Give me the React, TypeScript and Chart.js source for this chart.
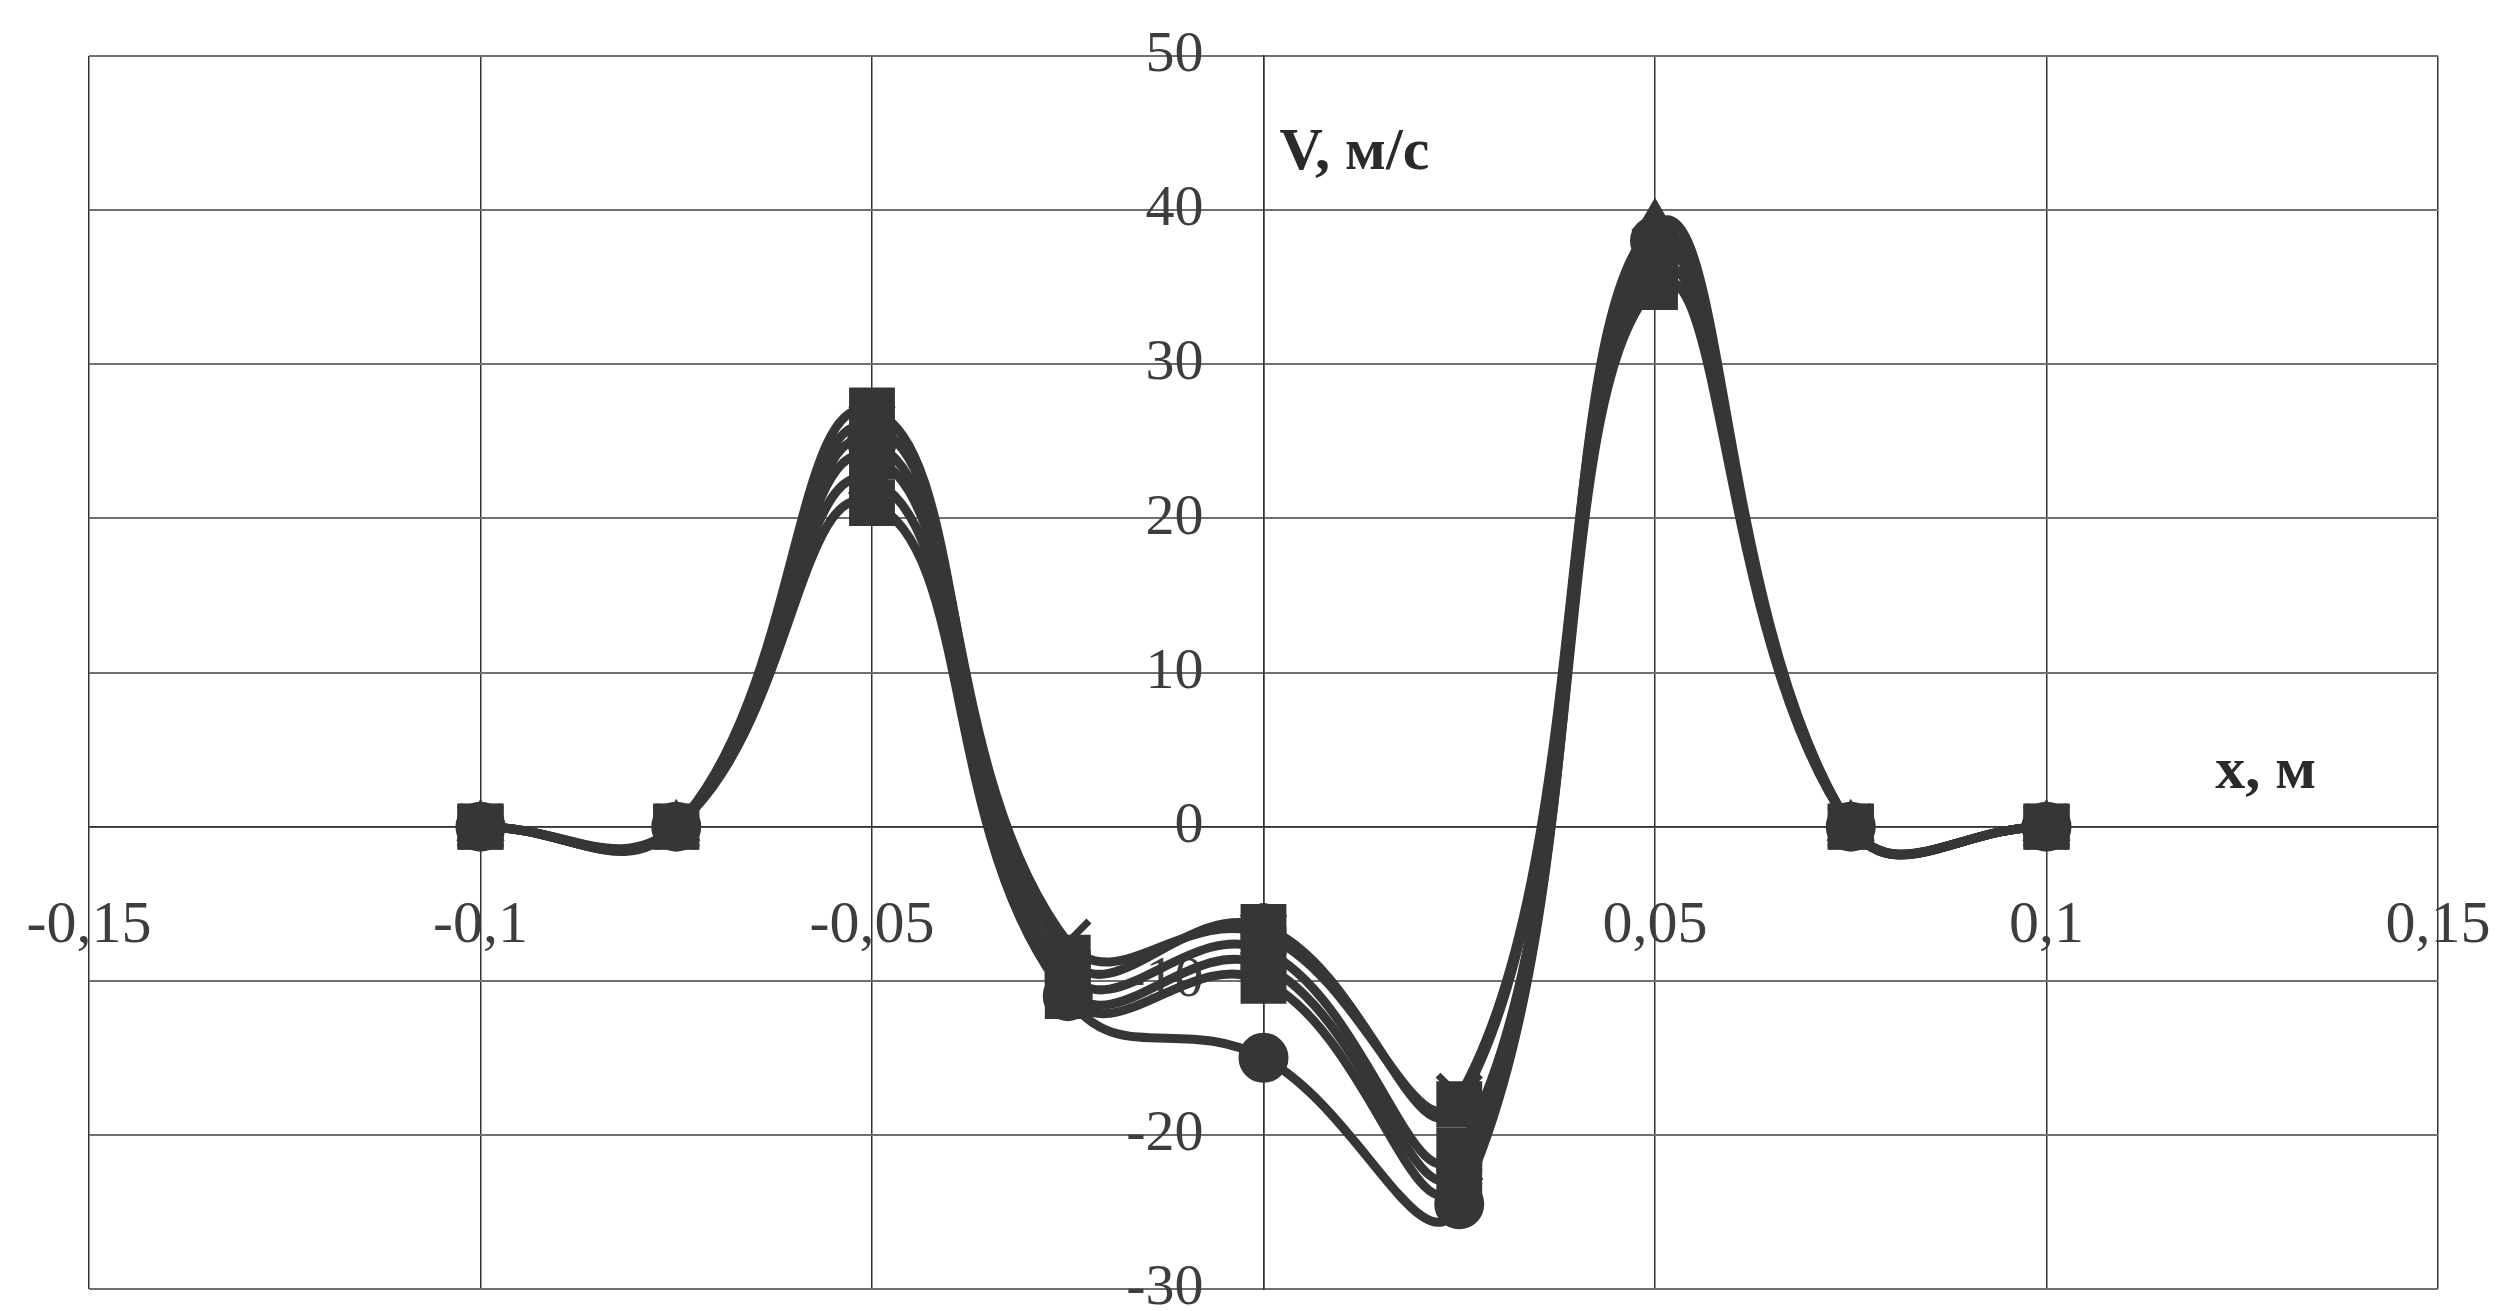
import React, { useEffect, useRef } from 'react';
import { Chart, registerables } from 'chart.js';

Chart.register(...registerables);

// ---- data ----
const xValues = [-0.1, -0.075, -0.05, -0.025, 0, 0.025, 0.05, 0.075, 0.1];
const series1 = [0, 0, 27, -8.5, -6.5, -18, 37, 0, 0];
const series2 = [0, 0, 26, -7.5, -7, -17.5, 37.5, 0, 0];
const series3 = [0, 0, 24, -9.5, -8, -21, 36, 0, 0];
const series4 = [0, 0, 22.5, -10.5, -9, -22, 39, 0, 0];
const series5 = [0, 0, 21, -11, -10, -23, 35, 0, 0];
const series6 = [0, 0, 25, -11, -15, -24.5, 38, 0, 0];
const seriesList = [series1, series2, series3, series4, series5, series6];
const seriesNames = ['1', '2', '3', '4', '5', '6'];
const seriesMarkers = ['rect', 'crossRot', 'rect', 'triangle', 'rect', 'circle'];

const xTickValues = [-0.15, -0.1, -0.05, 0, 0.05, 0.1, 0.15];
const xTickLabels = ['-0,15', '-0,1', '-0,05', '0', '0,05', '0,1', '0,15'];
const yTickValues = [-30, -20, -10, 0, 10, 20, 30, 40, 50];
const yTickLabels = ['-30', '-20', '-10', '0', '10', '20', '30', '40', '50'];
const yAxisTitle = 'V, м/с';
const xAxisTitle = 'x, м';

// ---- styles ----
const INK = '#363636';
const SERIF = '"Liberation Serif", "Times New Roman", serif';
const markerRadius: Record<string, number> = { rect: 31, crossRot: 30, triangle: 26, circle: 24 };
const markerBorder: Record<string, number> = { rect: 2, crossRot: 7, triangle: 2, circle: 2 };

const titlesPlugin = {
  id: 'axisTitles',
  afterDatasetsDraw(chart: any) {
    const { ctx } = chart;
    const x = chart.scales.x;
    const y = chart.scales.y;
    ctx.save();
    ctx.fillStyle = '#2a2a2a';
    ctx.font = `bold 60px ${SERIF}`;
    ctx.textBaseline = 'alphabetic';
    ctx.textAlign = 'left';
    ctx.fillText(yAxisTitle, x.getPixelForValue(0) + 16, y.getPixelForValue(42.7));
    ctx.textAlign = 'center';
    ctx.fillText(xAxisTitle, x.getPixelForValue(0.128), y.getPixelForValue(2.5));
    ctx.restore();
  },
};

const zeroFit = (s: any) => {
  s.paddingLeft = 0;
  s.paddingRight = 0;
  s.paddingTop = 0;
  s.paddingBottom = 0;
};

export default function App() {
  const ref = useRef<HTMLCanvasElement | null>(null);

  useEffect(() => {
    if (!ref.current) return;
    const datasets = seriesList.map((vals, i) => {
      const m = seriesMarkers[i];
      return {
        label: seriesNames[i],
        data: xValues.map((xv, j) => ({ x: xv, y: vals[j] })),
        borderColor: INK,
        backgroundColor: INK,
        borderWidth: 9,
        tension: 0.45,
        fill: false,
        pointStyle: m,
        pointRadius: markerRadius[m],
        pointBorderWidth: markerBorder[m],
        pointBackgroundColor: INK,
        pointBorderColor: INK,
      };
    });

    const chart = new Chart(ref.current, {
      type: 'line',
      data: { datasets },
      plugins: [titlesPlugin],
      options: {
        animation: false,
        responsive: false,
        devicePixelRatio: 1,
        layout: { autoPadding: false, padding: { left: 89, right: 65, top: 56, bottom: 22 } },
        plugins: { legend: { display: false }, tooltip: { enabled: false } },
        scales: {
          x: {
            type: 'linear',
            min: -0.15,
            max: 0.15,
            position: { y: 0 } as any,
            afterBuildTicks: (s: any) => {
              s.ticks = xTickValues.map((v) => ({ value: v }));
            },
            afterFit: (s: any) => {
              s.height = 0;
              zeroFit(s);
            },
            grid: { color: '#333', lineWidth: 1.5, drawTicks: true, tickLength: 64, tickColor: 'rgba(0,0,0,0)' },
            border: { display: true, color: '#333', width: 1.5 },
            ticks: {
              padding: 0,
              autoSkip: false,
              maxRotation: 0,
              color: '#3d3d3d',
              font: { family: SERIF, size: 60 },
              callback: (_v: any, i: number) => xTickLabels[i],
            },
          },
          y: {
            type: 'linear',
            min: -30,
            max: 50,
            position: 'center',
            afterBuildTicks: (s: any) => {
              s.ticks = yTickValues.map((v) => ({ value: v }));
            },
            afterFit: (s: any) => {
              s.width = 0;
              zeroFit(s);
            },
            grid: { color: '#707070', lineWidth: 2, drawTicks: true, tickLength: 60, tickColor: 'rgba(0,0,0,0)' },
            border: { display: true, color: '#333', width: 1.5 },
            ticks: {
              padding: 0,
              autoSkip: false,
              color: '#3d3d3d',
              font: { family: SERIF, size: 58 },
              callback: (_v: any, i: number) => yTickLabels[i],
            },
          },
        },
      },
    } as any);
    return () => chart.destroy();
  }, []);

  return (
    <div style={{ position: 'absolute', left: 0, top: 0, width: 2503, height: 1311, background: '#fff' }}>
      <canvas ref={ref} width={2503} height={1311} style={{ width: 2503, height: 1311, display: 'block' }} />
    </div>
  );
}
